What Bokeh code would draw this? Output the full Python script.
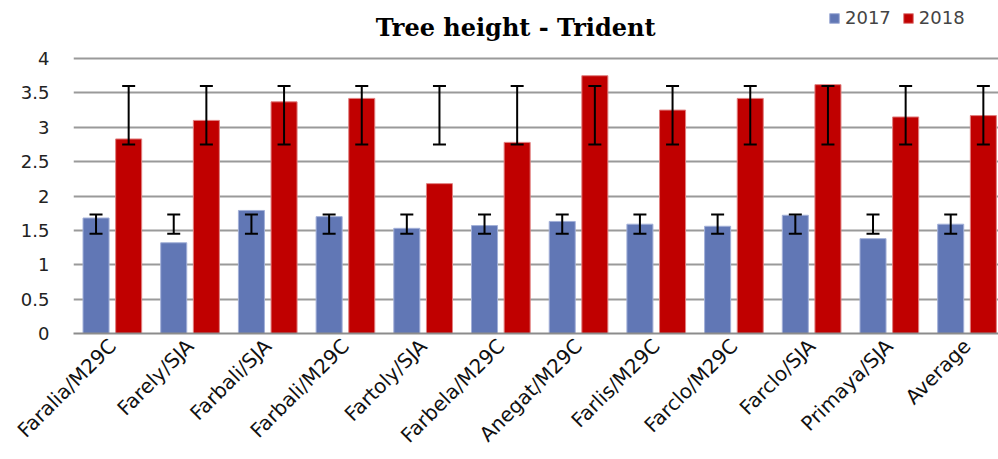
from bokeh.plotting import figure
from bokeh.models import ColumnDataSource, FixedTicker, Whisker, TeeHead, Legend, LegendItem, Label, Range1d
from bokeh.embed import file_html
from bokeh.resources import INLINE
import math

categories = ["Faralia/M29C", "Farely/SJA", "Farbali/SJA", "Farbali/M29C", "Fartoly/SJA",
              "Farbela/M29C", "Anegat/M29C", "Farlis/M29C", "Farclo/M29C", "Farclo/SJA",
              "Primaya/SJA", "Average"]
h2017 = [1.68, 1.32, 1.79, 1.70, 1.53, 1.57, 1.63, 1.59, 1.56, 1.72, 1.38, 1.59]
h2018 = [2.83, 3.10, 3.37, 3.42, 2.18, 2.78, 3.75, 3.25, 3.42, 3.62, 3.15, 3.17]
err2017_low = [1.45] * 12
err2017_high = [1.73] * 12
err2018_low = [2.75] * 12
err2018_high = [3.60] * 12
y_ticks = [0, 0.5, 1, 1.5, 2, 2.5, 3, 3.5, 4]

BLUE = "#6177B5"
RED = "#C00000"
OFF = 0.21
BAR_W = 0.335

pos = [i + 0.5 for i in range(len(categories))]
src = ColumnDataSource(dict(
    x17=[p_ - OFF for p_ in pos], x18=[p_ + OFF for p_ in pos],
    h17=h2017, h18=h2018,
    lo17=err2017_low, hi17=err2017_high,
    lo18=err2018_low, hi18=err2018_high,
))

p = figure(width=998, height=459, output_backend="svg", toolbar_location=None,
           x_range=Range1d(0, 11.905), y_range=Range1d(0, 4.844),
           min_border_left=73, min_border_right=0, min_border_top=0, min_border_bottom=126)
p.outline_line_color = None
p.background_fill_color = "white"
p.border_fill_color = "white"

r17 = p.vbar(x="x17", top="h17", width=BAR_W, source=src, fill_color=BLUE,
             line_color="#A3B0D8", line_width=1)
r18 = p.vbar(x="x18", top="h18", width=BAR_W, source=src, fill_color=RED,
             line_color="#E08080", line_width=1)

for lo, hi, xk in (("lo17", "hi17", "x17"), ("lo18", "hi18", "x18")):
    w = Whisker(source=src, base=xk, lower=lo, upper=hi, dimension="height",
                line_color="black", line_width=2, level="overlay",
                upper_head=TeeHead(size=13, line_color="black", line_width=2),
                lower_head=TeeHead(size=13, line_color="black", line_width=2))
    p.add_layout(w)

# axes
p.yaxis.ticker = FixedTicker(ticks=y_ticks)
p.yaxis.major_label_overrides = {t: (str(t) if t != int(t) else str(int(t))) for t in y_ticks}
p.yaxis.axis_line_color = None
p.yaxis.major_tick_line_color = None
p.yaxis.minor_tick_line_color = None
p.yaxis.major_label_standoff = 18
p.yaxis.major_label_text_font = "DejaVu Sans"
p.yaxis.major_label_text_font_size = "18px"
p.yaxis.major_label_text_color = "#222222"

p.xaxis.ticker = FixedTicker(ticks=pos)
p.xaxis.major_label_overrides = {pv: c for pv, c in zip(pos, categories)}
p.xaxis.major_label_orientation = math.pi / 4
p.xaxis.axis_line_color = "#8C8C8C"
p.xaxis.axis_line_width = 2
p.xaxis.major_tick_line_color = None
p.xaxis.minor_tick_line_color = None
p.xaxis.major_label_standoff = 3
p.xaxis.major_label_text_font = "DejaVu Sans"
p.xaxis.major_label_text_font_size = "20px"
p.xaxis.major_label_text_color = "#111111"

p.xgrid.grid_line_color = None
p.ygrid.ticker = FixedTicker(ticks=y_ticks[1:])
p.ygrid.grid_line_color = "#9A9A9A"
p.ygrid.grid_line_width = 2

title = Label(x=5.69, y=4.45, text="Tree height - Trident", text_align="center",
              text_baseline="middle", text_font="DejaVu Serif", text_font_style="bold",
              text_font_size="24px", text_color="black")
p.add_layout(title)

legend = Legend(items=[LegendItem(label="2017", renderers=[r17]),
                       LegendItem(label="2018", renderers=[r18])],
                location=(755, 305), orientation="horizontal",
                label_text_font="DejaVu Sans", label_text_font_size="18px",
                glyph_width=12, glyph_height=12, label_standoff=5, spacing=11,
                border_line_color=None, background_fill_alpha=0,
                margin=0, padding=2)
p.add_layout(legend)

open("out.html", "w").write(file_html(p, INLINE))
